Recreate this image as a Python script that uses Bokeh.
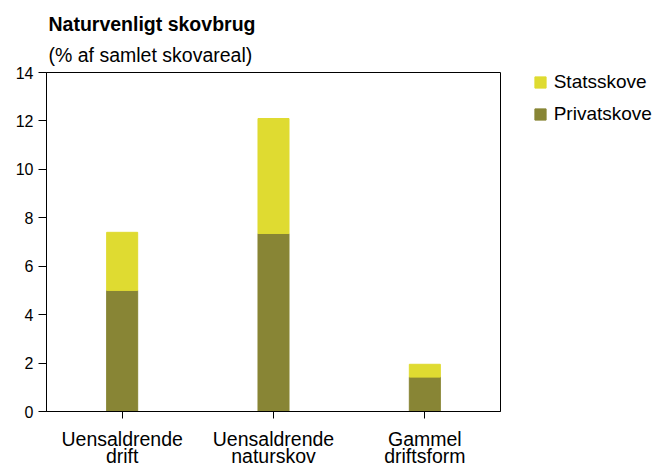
from bokeh.plotting import figure
from bokeh.models import (ColumnDataSource, Range1d, FixedTicker, LinearAxis,
                          Legend, LegendItem, Title)
from bokeh.embed import file_html
from bokeh.resources import INLINE

# ---- data ----
categories = ["Uensaldrende drift", "Uensaldrende naturskov", "Gammel driftsform"]
label_line1 = ["Uensaldrende", "Uensaldrende", "Gammel"]
label_line2 = ["drift", "naturskov", "driftsform"]
privatskove = [5.0, 7.35, 1.42]
statsskove = [2.4, 4.75, 0.53]
series = ["Privatskove", "Statsskove"]
y_ticks = [0, 2, 4, 6, 8, 10, 12, 14]
title_text = "Naturvenligt skovbrug"
subtitle_text = "(% af samlet skovareal)"

OLIVE = "#888535"
YELLOW = "#dfdb31"
FONT = "Liberation Sans"

x_pos = [i + 0.5 for i in range(len(categories))]
source = ColumnDataSource(dict(x=x_pos, cat=categories,
                               Privatskove=privatskove, Statsskove=statsskove))

p = figure(width=658, height=465, frame_width=454, frame_height=339,
           x_range=Range1d(0, len(categories)),
           y_range=Range1d(0, 14), output_backend="svg", toolbar_location=None,
           min_border_left=46, min_border_right=158, min_border_top=72, min_border_bottom=54)

rs = p.vbar_stack(series, x="x", width=0.205, color=[OLIVE, YELLOW], source=source)

p.xgrid.visible = False
p.ygrid.visible = False
p.outline_line_color = "black"
p.outline_line_width = 1
p.background_fill_color = "white"
p.border_fill_color = "white"

# y axis
ya = p.yaxis[0]
ya.ticker = FixedTicker(ticks=y_ticks)
ya.minor_tick_line_color = None
ya.major_tick_out = 8
ya.major_tick_in = 0
ya.major_label_standoff = 5
ya.major_label_text_font = FONT
ya.major_label_text_font_size = "16px"
ya.major_label_text_color = "black"
ya.axis_line_color = "black"
ya.major_tick_line_color = "black"

# x axis (first label line)
xa = p.xaxis[0]
xa.ticker = FixedTicker(ticks=x_pos)
xa.major_tick_out = 7
xa.major_tick_in = 0
xa.minor_tick_line_color = None
xa.major_label_standoff = 9
xa.major_label_overrides = dict(zip(x_pos, label_line1))
xa.major_label_text_font = FONT
xa.major_label_text_font_size = "19.5px"
xa.major_label_text_color = "black"
xa.axis_line_color = "black"
xa.major_tick_line_color = "black"

# second label line
xa2 = LinearAxis(ticker=FixedTicker(ticks=x_pos), major_label_overrides=dict(zip(x_pos, label_line2)),
                 axis_line_color=None, major_tick_line_color=None, minor_tick_line_color=None,
                 major_tick_out=0, major_tick_in=0, major_label_standoff=-8,
                 major_label_text_font=FONT, major_label_text_font_size="19.5px",
                 major_label_text_color="black")
p.add_layout(xa2, "below")

# titles
p.add_layout(Title(text=subtitle_text, align="left", offset=2, standoff=14,
                   text_font=FONT, text_font_size="19.5px", text_font_style="normal",
                   text_color="black"), "above")
p.add_layout(Title(text=title_text, align="left", offset=2, standoff=0,
                   text_font=FONT, text_font_size="19.5px", text_font_style="bold",
                   text_color="black"), "above")

legend = Legend(items=[LegendItem(label="Statsskove", renderers=[rs[1]]),
                       LegendItem(label="Privatskove", renderers=[rs[0]])],
                location=(32.7, 286), padding=0, margin=0, spacing=10,
                glyph_width=14, glyph_height=14, label_height=14, label_standoff=7,
                label_text_font=FONT, label_text_font_size="19px", label_text_color="black",
                border_line_color=None, background_fill_alpha=0)
p.add_layout(legend, "right")

open("out.html", "w").write(file_html(p, INLINE))
